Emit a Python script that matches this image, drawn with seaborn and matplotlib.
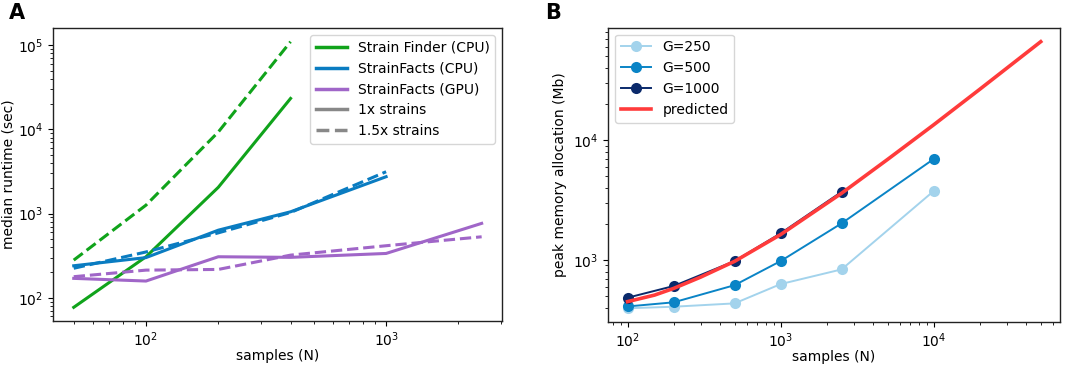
import matplotlib
matplotlib.use("Agg")
import matplotlib.pyplot as plt
from matplotlib.lines import Line2D
import seaborn as sns
import pandas as pd

# panel A: median runtime (sec)
n_a = [50, 100, 200, 400, 1000, 2500]
finder_1x = [77, 307, 2050, 23300]
finder_15x = [280, 1260, 9300, 110000]
facts_cpu_1x = [240, 300, 635, 1050, 2740]
facts_cpu_15x = [224, 350, 590, 1030, 3140]
facts_gpu_1x = [170, 158, 307, 302, 336, 765]
facts_gpu_15x = [178, 213, 217, 321, 415, 530]

# panel B: peak memory allocation (Mb)
n_b = [100, 200, 500, 1000, 2500, 10000]
mem_g250 = [396, 408, 435, 630, 835, 3760]
mem_g500 = [410, 444, 617, 980, 2020, 6950]
mem_g1000 = [485, 607, 980, 1670, 3700]
n_pred = [100, 150, 200, 300, 500, 1000, 2500, 5000, 10000, 20000, 50000]
mem_pred = [450, 510, 580, 720, 975, 1630, 3600, 6900, 13400, 26500, 66000]

c_finder = "#10a31b"
c_cpu = "#0a7cc1"
c_gpu = "#a066c8"
c_g250 = "#a3d3ec"
c_g500 = "#0a84c6"
c_g1000 = "#0b2a6b"
c_pred = "#ff3b3b"

rows = []
for meth, s1, s15 in [("Strain Finder (CPU)", finder_1x, finder_15x),
                      ("StrainFacts (CPU)", facts_cpu_1x, facts_cpu_15x),
                      ("StrainFacts (GPU)", facts_gpu_1x, facts_gpu_15x)]:
    for n, v in zip(n_a, s1):
        rows.append((meth, "1x strains", n, v))
    for n, v in zip(n_a, s15):
        rows.append((meth, "1.5x strains", n, v))
df_a = pd.DataFrame(rows, columns=["method", "strains", "N", "runtime"])

rows = []
for g, vals in [("G=250", mem_g250), ("G=500", mem_g500), ("G=1000", mem_g1000)]:
    for n, v in zip(n_b, vals):
        rows.append((g, n, v))
df_b = pd.DataFrame(rows, columns=["G", "N", "mem"])
df_pred = pd.DataFrame({"N": n_pred, "mem": mem_pred})

plt.rcParams["font.family"] = ["DejaVu Sans"]
plt.rcParams["font.size"] = 10

fig = plt.figure(figsize=(10.65, 3.66), dpi=100)
ax1 = fig.add_axes([0.0498, 0.123, 0.4216, 0.8005])
ax2 = fig.add_axes([0.571, 0.121, 0.4243, 0.8033])

pal_a = {"Strain Finder (CPU)": c_finder, "StrainFacts (CPU)": c_cpu, "StrainFacts (GPU)": c_gpu}
sns.lineplot(data=df_a, x="N", y="runtime", hue="method", style="strains",
             palette=pal_a, dashes={"1x strains": "", "1.5x strains": (3.7, 1.6)},
             linewidth=2.2, legend=False, ax=ax1)
ax1.set_xscale("log")
ax1.set_yscale("log")
ax1.set_xlim(41, 3040)
ax1.set_ylim(53, 1.6e5)
ax1.set_xlabel("samples (N)", fontsize=10, labelpad=0)
ax1.set_ylabel("median runtime (sec)", fontsize=10, labelpad=2)
handles = [Line2D([], [], color=c_finder, lw=2.5),
           Line2D([], [], color=c_cpu, lw=2.5),
           Line2D([], [], color=c_gpu, lw=2.5),
           Line2D([], [], color="#888888", lw=2.5),
           Line2D([], [], color="#888888", lw=2.5, dashes=(3.7, 1.6))]
labels = ["Strain Finder (CPU)", "StrainFacts (CPU)", "StrainFacts (GPU)",
          "1x strains", "1.5x strains"]
ax1.legend(handles, labels, loc="upper right", fontsize=10, frameon=True,
           borderaxespad=0.5, handlelength=2.2)

pal_b = {"G=250": c_g250, "G=500": c_g500, "G=1000": c_g1000}
sns.lineplot(data=df_b, x="N", y="mem", hue="G", palette=pal_b, marker="o",
             markersize=8, markeredgewidth=0, linewidth=1.4, ax=ax2)
sns.lineplot(data=df_pred, x="N", y="mem", color=c_pred, linewidth=2.6,
             label="predicted", ax=ax2)
ax2.set_xscale("log")
ax2.set_yscale("log")
ax2.set_xlim(74.6, 66800)
ax2.set_ylim(306, 86300)
ax2.set_xlabel("samples (N)", fontsize=10, labelpad=0)
ax2.set_ylabel("peak memory allocation (Mb)", fontsize=10)
ax2.legend(loc="upper left", fontsize=10, frameon=True, borderaxespad=0.5,
           handlelength=2.2)

for ax in (ax1, ax2):
    ax.tick_params(which="both", direction="out", labelsize=10)
    for s in ax.spines.values():
        s.set_linewidth(1.0)
        s.set_color("#222222")

fig.text(0.008, 0.965, "A", fontsize=15, fontweight="bold", va="center")
fig.text(0.512, 0.965, "B", fontsize=15, fontweight="bold", va="center")

fig.savefig("out.png", dpi=100)
